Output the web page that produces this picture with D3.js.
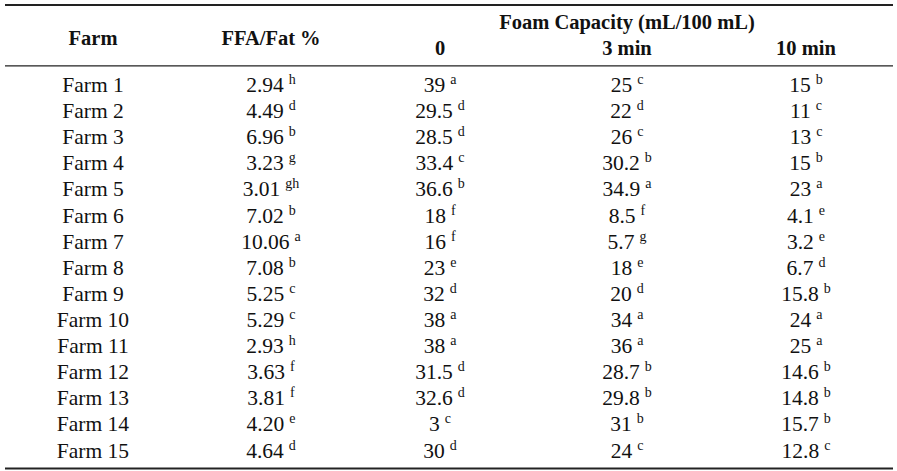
<!DOCTYPE html>
<html>
<head>
<meta charset="utf-8">
<script src="https://cdn.jsdelivr.net/npm/d3@7"></script>
<style>
  html, body { margin: 0; padding: 0; background: #fff; }
  svg text { font-family: "Liberation Serif", "DejaVu Serif", serif; fill: #111; }
</style>
</head>
<body>
<div id="table"></div>
<script>
    "use strict";

    // table data
    var farms = ["Farm 1", "Farm 2", "Farm 3", "Farm 4", "Farm 5", "Farm 6", "Farm 7", "Farm 8",
        "Farm 9", "Farm 10", "Farm 11", "Farm 12", "Farm 13", "Farm 14", "Farm 15"];
    var ffaFat = [2.94, 4.49, 6.96, 3.23, 3.01, 7.02, 10.06, 7.08, 5.25, 5.29, 2.93, 3.63, 3.81, 4.20, 4.64];
    var ffaLetters = ["h", "d", "b", "g", "gh", "b", "a", "b", "c", "c", "h", "f", "f", "e", "d"];
    var foam0 = [39, 29.5, 28.5, 33.4, 36.6, 18, 16, 23, 32, 38, 38, 31.5, 32.6, 3, 30];
    var foam0Letters = ["a", "d", "d", "c", "b", "f", "f", "e", "d", "a", "a", "d", "d", "c", "d"];
    var foam3 = [25, 22, 26, 30.2, 34.9, 8.5, 5.7, 18, 20, 34, 36, 28.7, 29.8, 31, 24];
    var foam3Letters = ["c", "d", "c", "b", "a", "f", "g", "e", "d", "a", "a", "b", "b", "b", "c"];
    var foam10 = [15, 11, 13, 15, 23, 4.1, 3.2, 6.7, 15.8, 24, 25, 14.6, 14.8, 15.7, 12.8];
    var foam10Letters = ["b", "c", "c", "b", "a", "e", "e", "d", "b", "a", "a", "b", "b", "b", "c"];

    var columnKeys = ["farm", "ffa", "f0", "f3", "f10"];
    var subHeaders = ["0", "3 min", "10 min"];

    var width = 897, height = 471;

    var svg = d3.select("#table").append("svg")
        .attr("width", width)
        .attr("height", height);

    // column centres
    var x = d3.scaleOrdinal()
        .domain(columnKeys)
        .range([93, 271, 440, 627, 806]);

    // row baselines
    var y = d3.scalePoint()
        .domain(farms)
        .range([92, 457.5]);

    var fmt2 = d3.format(".2f");

    var rows = farms.map(function (f, i) {
        return [
            {key: "farm", value: f, sup: null, row: f},
            {key: "ffa", value: fmt2(ffaFat[i]), sup: ffaLetters[i], row: f},
            {key: "f0", value: String(foam0[i]), sup: foam0Letters[i], row: f},
            {key: "f3", value: String(foam3[i]), sup: foam3Letters[i], row: f},
            {key: "f10", value: String(foam10[i]), sup: foam10Letters[i], row: f}
        ];
    });

    // rules
    svg.append("line")
        .attr("x1", 5).attr("x2", 893)
        .attr("y1", 5).attr("y2", 5)
        .attr("stroke", "#222").attr("stroke-width", 2);
    svg.append("line")
        .attr("x1", 5).attr("x2", 893)
        .attr("y1", 65.8).attr("y2", 65.8)
        .attr("stroke", "#222").attr("stroke-width", 1.2);
    svg.append("line")
        .attr("x1", 5).attr("x2", 893)
        .attr("y1", 468.5).attr("y2", 468.5)
        .attr("stroke", "#222").attr("stroke-width", 2);

    // headers
    var header = svg.append("g").attr("class", "header")
        .style("font-weight", "bold")
        .style("font-size", "20.5px");

    header.append("text")
        .attr("x", x("farm")).attr("y", 45)
        .attr("text-anchor", "middle")
        .text("Farm");
    header.append("text")
        .attr("x", x("ffa")).attr("y", 45)
        .attr("text-anchor", "middle")
        .text("FFA/Fat %");
    header.append("text")
        .attr("x", x("f3")).attr("y", 29)
        .attr("text-anchor", "middle")
        .text("Foam Capacity (mL/100 mL)");

    header.selectAll("text.sub")
        .data(subHeaders)
        .enter()
        .append("text")
        .attr("class", "sub")
        .attr("x", function (d, i) { return x(columnKeys[i + 2]); })
        .attr("y", 55)
        .attr("text-anchor", "middle")
        .text(function (d) { return d; });

    // body
    var rowGroups = svg.append("g").attr("class", "body")
        .style("font-size", "21.5px")
        .selectAll("g.row")
        .data(rows)
        .enter()
        .append("g")
        .attr("class", "row");

    var cells = rowGroups.selectAll("text")
        .data(function (d) { return d; })
        .enter()
        .append("text")
        .attr("x", function (d) { return x(d.key); })
        .attr("y", function (d) { return y(d.row); })
        .attr("text-anchor", "middle");

    cells.append("tspan")
        .text(function (d) { return d.value; });

    cells.filter(function (d) { return d.sup; })
        .append("tspan")
        .attr("dx", 5)
        .attr("dy", -8)
        .style("font-size", "14px")
        .text(function (d) { return d.sup; });
</script>
</body>
</html>
